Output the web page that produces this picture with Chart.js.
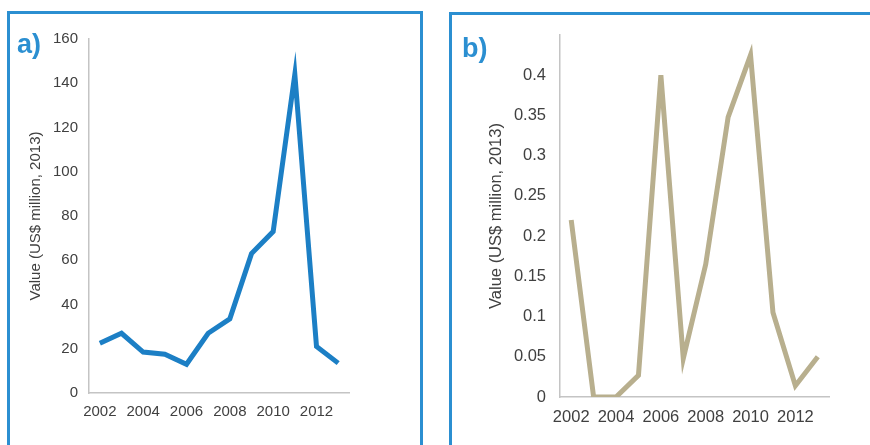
<!DOCTYPE html>
<html>
<head>
<meta charset="utf-8">
<script src="https://cdn.jsdelivr.net/npm/chart.js@4/dist/chart.umd.min.js"></script>
<style>
  html, body { margin: 0; padding: 0; background: #fff; overflow: hidden; }
  body { width: 870px; height: 445px; position: relative; font-family: "Liberation Sans", Arial, sans-serif; }
  .panel { position: absolute; border: 3px solid #2b8fd1; box-sizing: border-box; }
  #panelA { left: 7px; top: 11px; width: 416px; height: 460px; }
  #panelB { left: 449px; top: 12px; width: 440px; height: 460px; }
  .tag { position: absolute; color: #2b8fd1; font-weight: bold; font-size: 27px; line-height: 1; }
  #tagA { left: 17px; top: 31px; }
  #tagB { left: 462px; top: 35px; }
  .wrap { position: absolute; top: 0; height: 445px; }
  #wrapA { left: 0; width: 440px; }
  #wrapB { left: 440px; width: 430px; }
</style>
</head>
<body>
<div class="panel" id="panelA"></div>
<div class="panel" id="panelB"></div>
<div class="wrap" id="wrapA"><canvas id="chartA"></canvas></div>
<div class="wrap" id="wrapB"><canvas id="chartB"></canvas></div>
<div class="tag" id="tagA">a)</div>
<div class="tag" id="tagB">b)</div>
<script>
// Years shown on both panels
const years = ['2002','2003','2004','2005','2006','2007','2008','2009','2010','2011','2012','2013'];
// Panel a values (US$ million, 2013)
const valuesA = [22.5, 27, 18.5, 17.5, 13, 27, 33.5, 63, 73, 144, 21, 13.5];
// Panel b values (US$ million, 2013)
const valuesB = [0.22, 0, 0, 0.027, 0.40, 0.048, 0.165, 0.348, 0.425, 0.105, 0.014, 0.05];
const yTitle = 'Value (US$ million, 2013)';

const FONT = '"Liberation Sans", Arial, sans-serif';
const TEXT = '#404040';
const AXIS = '#c4c4c4';

function makeChart(id, values, color, o) {
  return new Chart(document.getElementById(id), {
    type: 'line',
    data: {
      labels: years,
      datasets: [{
        data: values,
        borderColor: color,
        borderWidth: 5,
        pointRadius: 0,
        pointHoverRadius: 0,
        tension: 0,
        fill: false,
        borderJoinStyle: 'miter'
      }]
    },
    options: {
      responsive: true,
      maintainAspectRatio: false,
      animation: false,
      events: [],
      layout: { padding: { left: 0, top: o.top, right: o.right, bottom: 0 } },
      plugins: { legend: { display: false }, tooltip: { enabled: false } },
      scales: {
        x: {
          type: 'category',
          offset: true,
          grid: { display: false, drawTicks: false },
          border: { display: true, color: AXIS, width: 1.5 },
          ticks: {
            autoSkip: false,
            maxRotation: 0,
            padding: o.xPad,
            color: TEXT,
            font: { family: FONT, size: o.fs },
            callback: (v, i) => (i % 2 === 0 ? years[i] : '')
          },
          afterFit: s => { s.height = o.xH; }
        },
        y: {
          min: 0,
          max: o.max,
          grid: { display: false, drawTicks: false },
          border: { display: true, color: AXIS, width: 1.5 },
          ticks: {
            stepSize: o.step,
            padding: o.yPad,
            color: TEXT,
            font: { family: FONT, size: o.fs },
            callback: v => (o.hideTop && Math.abs(v - o.max) < 1e-9) ? '' : +v.toFixed(2)
          },
          title: {
            display: true,
            text: yTitle,
            color: TEXT,
            font: { family: FONT, size: o.fs },
            padding: { top: o.tPad, bottom: 0 }
          },
          afterFit: s => { s.width = o.yW; }
        }
      }
    }
  });
}

makeChart('chartA', valuesA, '#1c7fc5', {
  top: 39, right: 91, xH: 52, yW: 89, max: 160, step: 20, hideTop: false,
  fs: 15, xPad: 10, yPad: 11, tPad: 27
});
makeChart('chartB', valuesB, '#b8af8e', {
  top: 35, right: 41, xH: 48, yW: 120, max: 0.45, step: 0.05, hideTop: true,
  fs: 16.5, xPad: 11, yPad: 14, tPad: 47
});
</script>
</body>
</html>
